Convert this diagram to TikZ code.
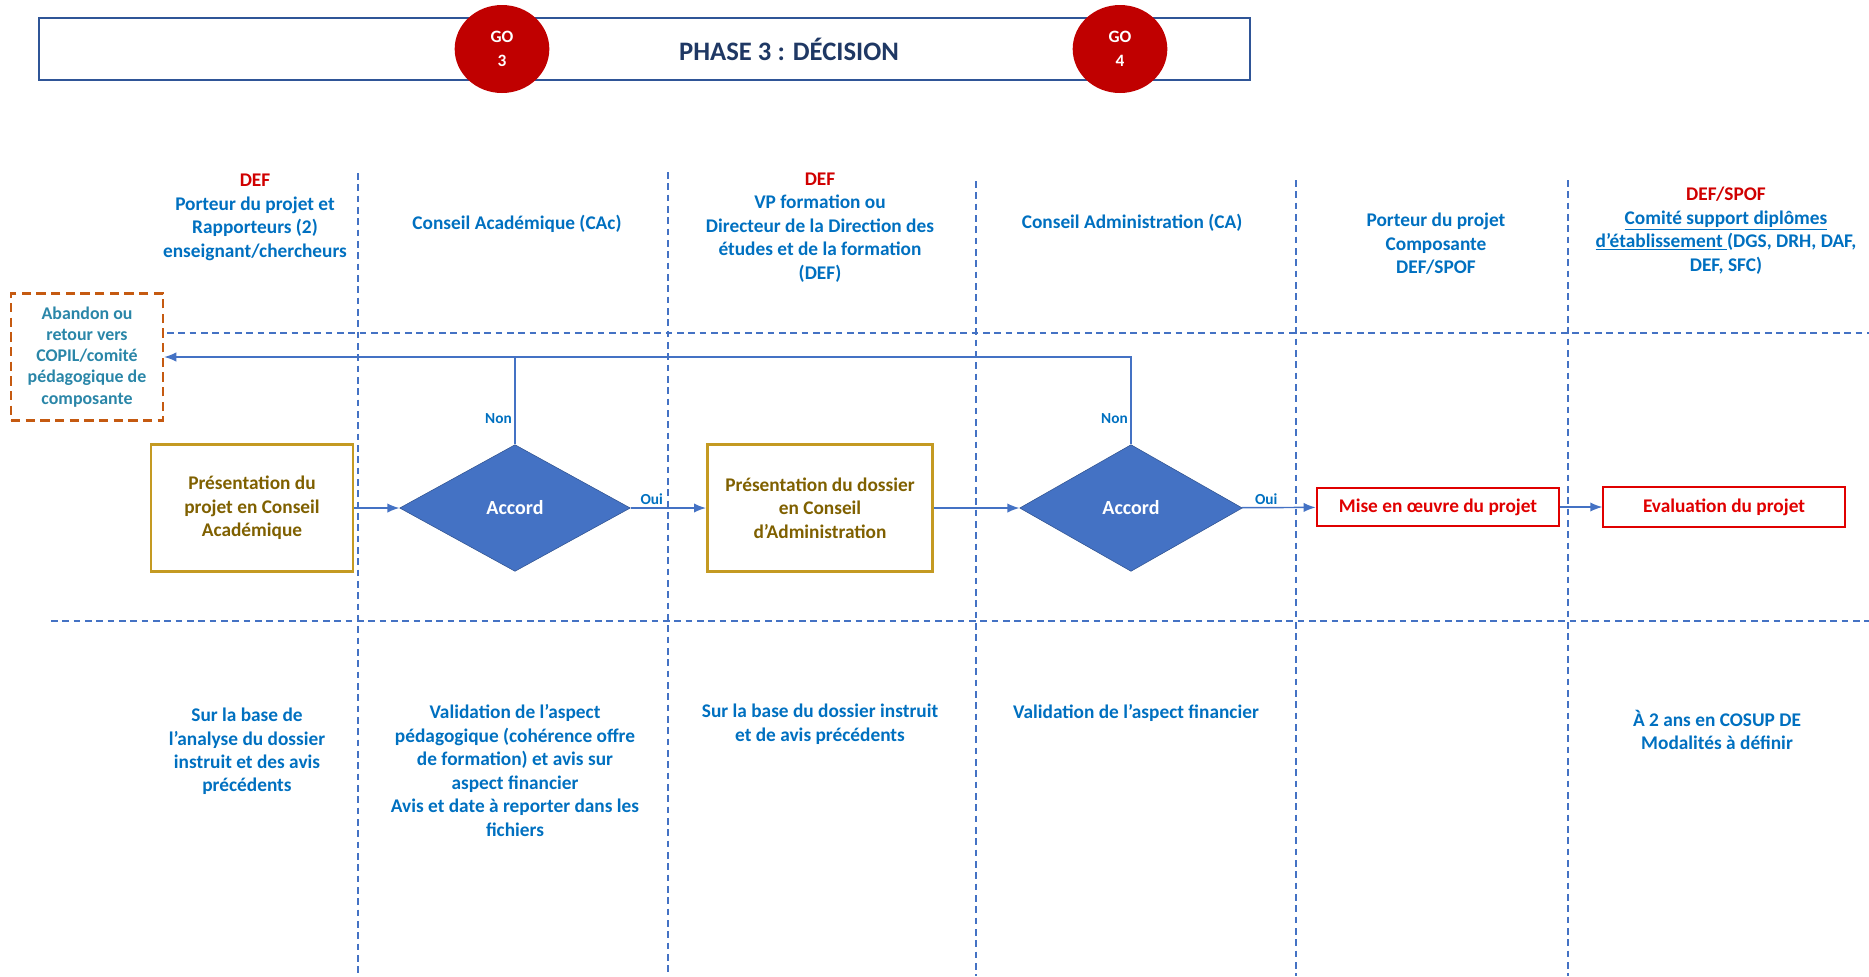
\documentclass[tikz,border=0pt]{standalone}
\usepackage{fontspec}
\setmainfont{Carlito}
\usetikzlibrary{shapes.geometric,arrows.meta,positioning}

\definecolor{lane}{HTML}{4472C4}
\definecolor{lanedark}{HTML}{2F528F}
\definecolor{hdrblue}{HTML}{0070C0}
\definecolor{tealtxt}{HTML}{2A86A8}
\definecolor{defred}{HTML}{D00000}
\definecolor{goline}{HTML}{C00000}
\definecolor{goldline}{HTML}{C49A22}
\definecolor{goldtxt}{HTML}{7F6000}
\definecolor{dashorange}{HTML}{C55A11}
\definecolor{boxred}{HTML}{E00000}
\definecolor{navy}{HTML}{1F3864}
\definecolor{navyline}{HTML}{2F5597}

\newcommand{\lanefont}{\fontsize{14.5}{17.6}\selectfont\bfseries}
\newcommand{\smallfont}{\fontsize{11.5}{13}\selectfont\bfseries}
\newcommand{\pxscale}{0.75pt}

\tikzstyle{lanesep}=[draw=lane, line width=1.5pt, dash pattern=on 5pt off 3.5pt]
\tikzstyle{header}=[align=center, text=hdrblue, font=\lanefont, inner sep=0pt]
\tikzstyle{stepbox}=[draw=goldline, line width=2pt, minimum height=95pt, inner sep=0pt, align=center, text=goldtxt, font=\lanefont]
\tikzstyle{decision}=[diamond, fill=lane, draw=lanedark, minimum height=95pt, inner sep=0pt, text=white, font=\fontsize{15}{17}\selectfont\bfseries]
\tikzstyle{endbox}=[draw=boxred, line width=1.5pt, inner sep=0pt, text=boxred, font=\lanefont]
\tikzstyle{gocircle}=[ellipse, fill=goline, minimum width=71pt, minimum height=66pt, inner sep=0pt, align=center, text=white, font=\fontsize{13}{18}\selectfont\bfseries]
\tikzstyle{edge}=[draw=lane, line width=1.1pt, -{Latex[length=9pt,width=7pt]}]
\tikzstyle{back}=[draw=lane, line width=0.8pt, -{Latex[length=9pt,width=7pt]}]
\tikzstyle{weight}=[font=\smallfont, text=hdrblue, inner sep=2pt]

\begin{document}
\begin{tikzpicture}[x=\pxscale, y=-\pxscale]
    \useasboundingbox (0,0) rectangle (1869,976);

    % Title band with the two GO marks
    \node[draw=navyline, line width=1.8pt, minimum width=908pt, minimum height=46.5pt, inner sep=0pt] (title) at (644.5,49) {};
    \node[text=navy, font=\fontsize{20}{22}\selectfont\bfseries] (phase) at (789,49) {PHASE 3 : DÉCISION};
    \foreach \pos/\name/\num in {{(502,49)/go3/3}, {(1120,49)/go4/4}}
        \node[gocircle] (\name) at \pos {GO\\\num};

    % Lanes
    \foreach \xpos/\ystart in {358/173, 668/172, 976/181, 1296/180, 1568/180}
        \path[lanesep] (\xpos,\ystart) -- (\xpos,976);
    \path[lanesep] (167,333) -- (1869,333);
    \path[lanesep] (51,621) -- (1869,621);

    % Lane headers
    \node[header] (h1) at (255,217.5) {\textcolor{defred}{DEF}\\Porteur du projet et\\Rapporteurs (2)\\enseignant/chercheurs};
    \node[header] (h2) at (517,224) {Conseil Académique (CAc)};
    \node[header] (h3) at (820,227.5) {\textcolor{defred}{DEF}\\VP formation ou\\Directeur de la Direction des\\études et de la formation\\(DEF)};
    \node[header] (h4) at (1132,223) {Conseil Administration (CA)};
    \node[header] (h5) at (1436,244) {Porteur du projet\\Composante\\DEF/SPOF};
    \node[header] (h6) at (1726,230.5) {\textcolor{defred}{DEF/SPOF}\\\underline{Comité support diplômes}\\\underline{d’établissement }(DGS, DRH, DAF,\\DEF, SFC)};

    % Flow
    \node[draw=dashorange, line width=2pt, dash pattern=on 7pt off 4pt, minimum width=114pt, minimum height=95pt, inner sep=0pt, align=center, text=tealtxt, font=\fontsize{13.4}{15.8}\selectfont\bfseries] (abandon) at (87,357) {Abandon ou\\retour vers\\COPIL/comité\\pédagogique de\\composante};
    \node[stepbox, minimum width=151.5pt] (pres1) at (252,508) {Présentation du\\projet en Conseil\\Académique};
    \node[decision, minimum width=173pt] (acc1) at (515,508) {Accord};
    \node[stepbox, minimum width=169pt] (pres2) at (820,508) {Présentation du dossier\\en Conseil\\d’Administration};
    \node[decision, minimum width=167pt] (acc2) at (1131,508) {Accord};
    \node[endbox, minimum width=182pt, minimum height=28.5pt] (mise) at (1438,507) {Mise en œuvre du projet};
    \node[endbox, minimum width=181pt, minimum height=30pt] (eval) at (1724,507) {Evaluation du projet};

    \foreach \source/\dest in {pres1/acc1, pres2/acc2, mise/eval}
        \path[edge] (\source) -- (\dest);
    \path[edge] (acc1) -- node[weight, pos=0.28, above] {Oui} (pres2);
    \path[edge] (acc2) -- node[weight, pos=0.33, above] {Oui} (mise);

    \path[back] (acc2.north) -- node[weight, pos=0.29, left] {Non} (acc2.north |- abandon.east) -- (abandon.east);
    \path[draw=lane, line width=0.8pt] (acc1.north) -- node[weight, pos=0.29, left] {Non} (acc1.north |- abandon.east);

    % Notes under the lanes
    \node[header] (n1) at (247,751.5) {Sur la base de\\l’analyse du dossier\\instruit et des avis\\précédents};
    \node[header] (n2) at (515,770.5) {Validation de l’aspect\\pédagogique (cohérence offre\\de formation) et avis sur\\aspect financier\\Avis et date à reporter dans les\\fichiers};
    \node[header] (n3) at (820,724) {Sur la base du dossier instruit\\et de avis précédents};
    \node[header] (n4) at (1136,713) {Validation de l’aspect financier};
    \node[header] (n6) at (1717,730) {À 2 ans en COSUP DE\\Modalités à définir};
\end{tikzpicture}
\end{document}
